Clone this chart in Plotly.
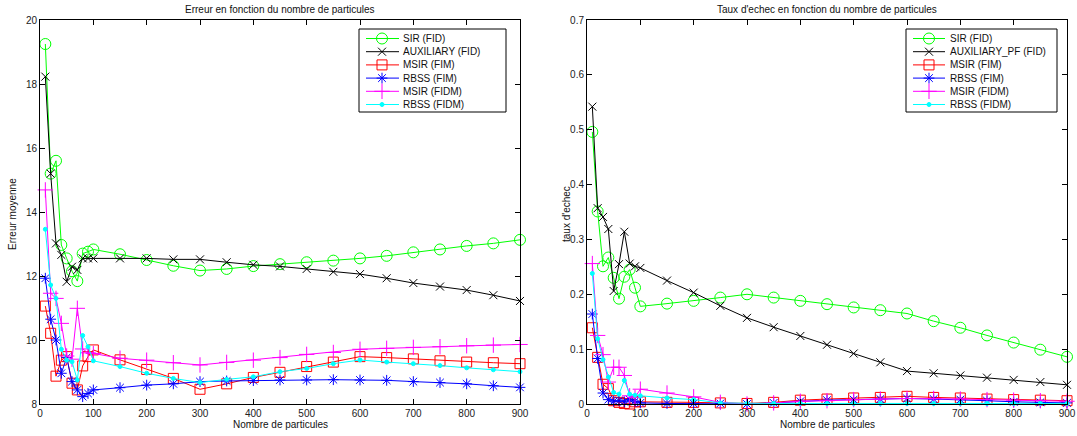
import plotly.graph_objects as go

# ---------------- data ----------------
n_particules = [10, 20, 30, 40, 50, 60, 70, 80, 90, 100, 150, 200, 250, 300, 350,
                400, 450, 500, 550, 600, 650, 700, 750, 800, 850, 900]

# Left: Erreur moyenne
err_sir_fid = [19.25, 15.2, 15.6, 12.97, 12.55, 12.15, 11.84, 12.7, 12.76, 12.83, 12.68, 12.5, 12.32,
               12.17, 12.22, 12.31, 12.37, 12.43, 12.48, 12.55, 12.63, 12.74, 12.83, 12.94, 13.02, 13.13]
err_aux_fid = [18.23, 15.2, 13.02, 12.66, 11.82, 12.29, 12.19, 12.55, 12.55, 12.55, 12.55, 12.55, 12.52,
               12.52, 12.43, 12.35, 12.30, 12.22, 12.13, 12.06, 11.93, 11.78, 11.67, 11.56, 11.40, 11.22]
err_msir_fim = [11.06, 10.21, 8.87, 9.37, 9.48, 8.65, 8.44, 9.19, 9.48, 9.69, 9.38, 9.08, 8.80,
                8.46, 8.63, 8.83, 8.99, 9.17, 9.31, 9.48, 9.45, 9.41, 9.35, 9.31, 9.29, 9.26]
err_rbss_fim = [11.93, 10.65, 10.0, 8.96, 9.45, 8.70, 8.44, 8.23, 8.33, 8.44, 8.51, 8.59, 8.63,
                8.70, 8.72, 8.73, 8.75, 8.75, 8.76, 8.75, 8.74, 8.70, 8.67, 8.63, 8.57, 8.52]
err_msir_fidm = [14.69, 11.46, 11.30, 10.52, 9.50, 9.40, 10.99, 9.72, 9.60, 9.58, 9.43, 9.37, 9.29,
                 9.22, 9.30, 9.37, 9.45, 9.55, 9.61, 9.71, 9.74, 9.77, 9.79, 9.82, 9.84, 9.86]
err_rbss_fidm = [13.46, 11.72, 11.3, 9.71, 9.37, 9.32, 8.75, 10.14, 9.79, 9.35, 9.17, 8.96, 8.80,
                 8.67, 8.77, 8.85, 9.01, 9.11, 9.26, 9.375, 9.31, 9.26, 9.20, 9.13, 9.07, 9.01]

# Right: taux d'echec
tx_sir_fid = [0.496, 0.351, 0.251, 0.267, 0.230, 0.192, 0.232, 0.245, 0.212, 0.178, 0.183, 0.188, 0.194,
              0.200, 0.194, 0.188, 0.182, 0.176, 0.171, 0.165, 0.151, 0.139, 0.125, 0.112, 0.099, 0.086]
tx_aux_fid = [0.542, 0.357, 0.341, 0.319, 0.206, 0.255, 0.314, 0.256, 0.251, 0.248, 0.225, 0.203, 0.179,
              0.157, 0.140, 0.124, 0.108, 0.092, 0.076, 0.060, 0.056, 0.052, 0.048, 0.044, 0.040, 0.035]
tx_msir_fim = [0.139, 0.085, 0.036, 0.028, 0.006, 0.003, 0.001, 0.0, 0.004, 0.004, 0.003, 0.003, 0.002,
               0.001, 0.003, 0.007, 0.009, 0.011, 0.012, 0.014, 0.012, 0.011, 0.009, 0.008, 0.007, 0.006]
tx_rbss_fim = [0.164, 0.083, 0.020, 0.008, 0.005, 0.006, 0.004, 0.008, 0.005, 0.002, 0.001, 0.001, 0.001,
               0.0, 0.002, 0.005, 0.007, 0.008, 0.009, 0.010, 0.009, 0.008, 0.006, 0.004, 0.003, 0.002]
tx_msir_fidm = [0.256, 0.125, 0.090, 0.040, 0.067, 0.067, 0.052, 0.015, 0.012, 0.027, 0.020, 0.013, 0.003,
                0.0, 0.002, 0.005, 0.006, 0.008, 0.009, 0.010, 0.010, 0.009, 0.008, 0.007, 0.006, 0.005]
tx_rbss_fidm = [0.238, 0.119, 0.081, 0.049, 0.021, 0.018, 0.043, 0.018, 0.016, 0.015, 0.011, 0.008, 0.002,
                0.001, 0.001, 0.001, 0.001, 0.001, 0.001, 0.001, 0.001, 0.001, 0.001, 0.001, 0.001, 0.001]

left_names = ["SIR (FID)", "AUXILIARY (FID)", "MSIR (FIM)", "RBSS (FIM)", "MSIR (FIDM)", "RBSS (FIDM)"]
right_names = ["SIR (FID)", "AUXILIARY_PF (FID)", "MSIR (FIM)", "RBSS (FIM)", "MSIR (FIDM)", "RBSS (FIDM)"]

x_ticks = [0, 100, 200, 300, 400, 500, 600, 700, 800, 900]
y_ticks_left = [8, 10, 12, 14, 16, 18, 20]
y_ticks_right = [0, 0.1, 0.2, 0.3, 0.4, 0.5, 0.6, 0.7]
y_ticktext_right = ["0", "0.1", "0.2", "0.3", "0.4", "0.5", "0.6", "0.7"]

# ---------------- styles ----------------
styles = [
    dict(color="#00ff00", symbol="circle-open", size=11),
    dict(color="#000000", symbol="x-thin-open", size=8),
    dict(color="#ff0000", symbol="square-open", size=10),
    dict(color="#0000ff", symbol="asterisk-open", size=9),
    dict(color="#ff00ff", symbol="cross-thin-open", size=11),
    dict(color="#00ffff", symbol="circle", size=4),
]

FONT = "Liberation Sans, Arial, Helvetica, sans-serif"
W, H = 1077, 436
ML, MR, MT, MB = 40, 10, 20, 32
PW, PH = W - ML - MR, H - MT - MB


def px_x(p):  # pixel -> paper x (relative to plot area)
    return (p - ML) / PW


def px_y(p):  # pixel -> paper y
    return (H - MB - p) / PH


fig = go.Figure()

left_series = [err_sir_fid, err_aux_fid, err_msir_fim, err_rbss_fim, err_msir_fidm, err_rbss_fidm]
right_series = [tx_sir_fid, tx_aux_fid, tx_msir_fim, tx_rbss_fim, tx_msir_fidm, tx_rbss_fidm]

for xa, ya, names, series in (("x", "y", left_names, left_series), ("x2", "y2", right_names, right_series)):
    for name, ys, st in zip(names, series, styles):
        fig.add_trace(go.Scatter(
            x=n_particules, y=ys, name=name, mode="lines+markers",
            xaxis=xa, yaxis=ya, showlegend=False, cliponaxis=False,
            line=dict(color=st["color"], width=1),
            marker=dict(symbol=st["symbol"], size=st["size"], color=st["color"],
                        line=dict(color=st["color"], width=1)),
        ))

# ---------------- custom compact legends (overlay axis in pixel units) ----------------
legend_boxes = [
    dict(names=left_names, x0=359, x1=506, y0=29, y1=112, line=(366, 399), mark=382, text=401),
    dict(names=right_names, x0=906, x1=1057, y0=29, y1=112, line=(913, 945), mark=929, text=948),
]
row0, row_step = 38.5, 13.2

for lb in legend_boxes:
    fig.add_trace(go.Scatter(
        x=[lb["x0"], lb["x1"], lb["x1"], lb["x0"], lb["x0"]],
        y=[lb["y0"], lb["y0"], lb["y1"], lb["y1"], lb["y0"]],
        xaxis="x3", yaxis="y3", mode="lines", fill="toself", fillcolor="white",
        line=dict(color="black", width=1), showlegend=False, hoverinfo="skip",
    ))
    for i, (name, st) in enumerate(zip(lb["names"], styles)):
        yc = row0 + row_step * i
        fig.add_trace(go.Scatter(
            x=[lb["line"][0], lb["line"][1]], y=[yc, yc], xaxis="x3", yaxis="y3",
            mode="lines", line=dict(color=st["color"], width=1), showlegend=False, hoverinfo="skip",
        ))
        fig.add_trace(go.Scatter(
            x=[lb["mark"]], y=[yc], xaxis="x3", yaxis="y3", mode="markers",
            marker=dict(symbol=st["symbol"], size=st["size"], color=st["color"],
                        line=dict(color=st["color"], width=1)),
            showlegend=False, hoverinfo="skip",
        ))
        fig.add_annotation(text=name, xref="x3", yref="y3", x=lb["text"], y=yc,
                           xanchor="left", yanchor="middle", showarrow=False,
                           font=dict(family=FONT, size=10, color="#111"))

axis_common = dict(showgrid=False, zeroline=False, showline=True, linecolor="black", linewidth=1,
                   mirror="ticks", ticks="inside", ticklen=5, tickcolor="black", automargin=False,
                   tickfont=dict(family=FONT, size=10, color="#222"))

fig.update_layout(
    width=W, height=H,
    margin=dict(l=ML, r=MR, t=MT, b=MB, pad=0),
    paper_bgcolor="white", plot_bgcolor="rgba(0,0,0,0)",
    font=dict(family=FONT, size=10, color="black"),
    showlegend=False,
    xaxis=dict(domain=[px_x(40), px_x(520)], range=[0, 900], tickvals=x_ticks, anchor="y", **axis_common),
    yaxis=dict(domain=[0, 1], range=[8, 20], tickvals=y_ticks_left, anchor="x", **axis_common),
    xaxis2=dict(domain=[px_x(587), px_x(1067)], range=[0, 900], tickvals=x_ticks, anchor="y2", **axis_common),
    yaxis2=dict(domain=[0, 1], range=[0, 0.7], tickvals=y_ticks_right, ticktext=y_ticktext_right,
                anchor="x2", **axis_common),
    xaxis3=dict(domain=[0, 1], range=[ML, W - MR], visible=False, fixedrange=True, anchor="y3"),
    yaxis3=dict(domain=[0, 1], range=[H - MB, MT], visible=False, fixedrange=True, anchor="x3"),
)

ann = [
    dict(text="Erreur en fonction du nombre de particules", x=px_x(280), y=px_y(10)),
    dict(text="Taux d'echec en fonction du nombre de particules", x=px_x(827), y=px_y(10)),
    dict(text="Nombre de particules", x=px_x(280), y=px_y(424)),
    dict(text="Nombre de particules", x=px_x(827), y=px_y(424)),
]
for a in ann:
    fig.add_annotation(xref="paper", yref="paper", showarrow=False, xanchor="center", yanchor="middle",
                       font=dict(family=FONT, size=10, color="#111"), **a)
fig.add_annotation(text="Erreur moyenne", xref="paper", yref="paper", x=px_x(13), y=px_y(214),
                   textangle=-90, showarrow=False, xanchor="center", yanchor="middle",
                   font=dict(family=FONT, size=10, color="#111"))
fig.add_annotation(text="taux d'echec", xref="paper", yref="paper", x=px_x(567), y=px_y(214),
                   textangle=-90, showarrow=False, xanchor="center", yanchor="middle",
                   font=dict(family=FONT, size=10, color="#111"))

fig.write_html(
    "out.html",
    config={"displayModeBar": False},
    post_script="document.body.style.margin='0px';document.body.style.overflow='hidden';",
)
